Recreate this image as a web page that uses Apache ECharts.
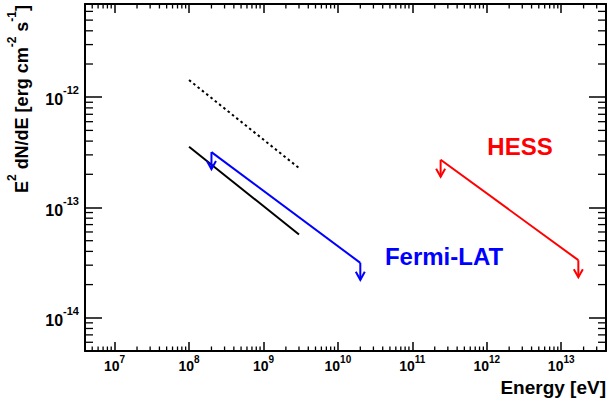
<!DOCTYPE html>
<html><head><meta charset="utf-8">
<script src="https://cdn.jsdelivr.net/npm/echarts@6/dist/echarts.min.js"></script>
<style>html,body{margin:0;padding:0;background:#fff}#c{width:608px;height:401px}</style>
</head><body><div id="c"></div>
<script>
// ---- data ----
const xRange = [4e6, 4e13];          // Energy [eV]
const yRange = [5e-15, 7e-12];       // E^2 dN/dE
const solidLine  = [[1e8, 3.55e-13], [3e9, 5.7e-14]];
const dottedLine = [[1e8, 1.43e-12], [3e9, 2.28e-13]];
const fermiLAT   = [[2e8, 3.18e-13], [2e10, 3.15e-14]];
const hess       = [[2.4e11, 2.71e-13], [1.7e13, 3.33e-14]];
const xDecades = [6, 7, 8, 9, 10, 11, 12, 13];
const yDecades = [-15, -14, -13, -12];
const minorMult = [2, 3, 4, 5, 6, 7, 8, 9];

const FONT = '"Liberation Sans", Arial, Helvetica, sans-serif';

function minorVals(decs, range) {
  const out = [];
  decs.forEach(d => minorMult.forEach(m => {
    const v = m * Math.pow(10, d);
    if (v > range[0] * 1.0001 && v < range[1] * 0.9999) out.push(v);
  }));
  return out;
}
const xMinor = minorVals(xDecades, xRange);
const yMinor = minorVals(yDecades, yRange);

function powLabel(v) {
  const l = Math.log10(v);
  const e = Math.round(l);
  if (Math.abs(l - e) > 0.01) return '';
  return '{b|10}{s|' + e + '}';
}

function minorTickSeries(vals, axis) {
  return {
    type: 'custom', silent: true, clip: false, z: 5,
    data: vals.map(v => axis === 'x' ? [v, yRange[0]] : [xRange[0], v]),
    renderItem(params, api) {
      const cs = params.coordSys;
      const st = { stroke: '#000', lineWidth: 1.3 };
      if (axis === 'x') {
        const px = api.coord([api.value(0), yRange[0]])[0];
        const b = cs.y + cs.height, t = cs.y;
        return { type: 'group', children: [
          { type: 'line', shape: { x1: px, y1: b, x2: px, y2: b - 4.5 }, style: st },
          { type: 'line', shape: { x1: px, y1: t, x2: px, y2: t + 4.5 }, style: st }
        ] };
      } else {
        const py = api.coord([xRange[0], api.value(1)])[1];
        const l = cs.x, r = cs.x + cs.width;
        return { type: 'group', children: [
          { type: 'line', shape: { x1: l, y1: py, x2: l + 8, y2: py }, style: st },
          { type: 'line', shape: { x1: r, y1: py, x2: r - 8, y2: py }, style: st }
        ] };
      }
    }
  };
}

function arrowSeries(points, color) {
  return {
    type: 'custom', silent: true, clip: false, z: 4,
    data: points,
    renderItem(params, api) {
      const p = api.coord([api.value(0), api.value(1)]);
      const st = { stroke: color, lineWidth: 2, fill: null };
      return { type: 'group', children: [
        { type: 'line', shape: { x1: p[0], y1: p[1], x2: p[0], y2: p[1] + 17 }, style: st },
        { type: 'polyline', shape: { points: [[p[0] - 4.5, p[1] + 9], [p[0], p[1] + 17], [p[0] + 4.5, p[1] + 9]] }, style: st }
      ] };
    }
  };
}

const axisLineStyle = { show: true, onZero: false, lineStyle: { color: '#000', width: 2 } };

const xLabelRich = {
  b: { fontSize: 14, fontWeight: 'bold', fontFamily: FONT, color: '#000' },
  s: { fontSize: 10, fontWeight: 'bold', fontFamily: FONT, color: '#000', padding: [0, 0, 14, 0] }
};
const yLabelRich = {
  b: { fontSize: 16, fontWeight: 'bold', fontFamily: FONT, color: '#000', padding: [5, 0, 0, 0] },
  s: { fontSize: 11, fontWeight: 'bold', fontFamily: FONT, color: '#000', padding: [0, 0, 14, 0] }
};

const chart = echarts.init(document.getElementById('c'), null, { renderer: 'svg' });
chart.setOption({
  animation: false,
  backgroundColor: '#fff',
  grid: { left: 85, right: 2, top: 4, bottom: 50, containLabel: false },
  xAxis: [
    { type: 'log', logBase: 10, min: xRange[0], max: xRange[1], position: 'bottom',
      axisLine: axisLineStyle, splitLine: { show: false },
      axisTick: { show: true, inside: true, length: 9, lineStyle: { color: '#000', width: 1.5 } },
      axisLabel: { show: true, margin: 3, formatter: powLabel, rich: xLabelRich,
        fontFamily: FONT, fontWeight: 'bold', fontSize: 14, color: '#000',
        showMinLabel: false, showMaxLabel: false } },
    { type: 'log', logBase: 10, min: xRange[0], max: xRange[1], position: 'top',
      axisLine: axisLineStyle, splitLine: { show: false },
      axisTick: { show: true, inside: true, length: 9, lineStyle: { color: '#000', width: 1.5 } },
      axisLabel: { show: false } }
  ],
  yAxis: [
    { type: 'log', logBase: 10, min: yRange[0], max: yRange[1], position: 'left',
      axisLine: axisLineStyle, splitLine: { show: false },
      axisTick: { show: true, inside: true, length: 17, lineStyle: { color: '#000', width: 1.5 } },
      axisLabel: { show: true, margin: 6, formatter: powLabel, rich: yLabelRich,
        fontFamily: FONT, fontWeight: 'bold', fontSize: 16, color: '#000',
        showMinLabel: false, showMaxLabel: false } },
    { type: 'log', logBase: 10, min: yRange[0], max: yRange[1], position: 'right',
      axisLine: axisLineStyle, splitLine: { show: false },
      axisTick: { show: true, inside: true, length: 17, lineStyle: { color: '#000', width: 1.5 } },
      axisLabel: { show: false } }
  ],
  series: [
    minorTickSeries(xMinor, 'x'),
    minorTickSeries(yMinor, 'y'),
    { type: 'line', data: dottedLine, symbol: 'none', silent: true,
      lineStyle: { color: '#000', width: 2, type: [2.5, 3] } },
    { type: 'line', data: solidLine, symbol: 'none', silent: true,
      lineStyle: { color: '#000', width: 2 } },
    { type: 'line', data: fermiLAT, symbol: 'none', silent: true,
      lineStyle: { color: '#0000ff', width: 2 } },
    arrowSeries(fermiLAT, '#0000ff'),
    { type: 'line', data: hess, symbol: 'none', silent: true,
      lineStyle: { color: '#ff0000', width: 2 } },
    arrowSeries(hess, '#ff0000')
  ],
  graphic: [
    { type: 'text', x: 606, y: 387, silent: true,
      style: { text: 'Energy [eV]', fill: '#000', font: 'bold 19px ' + FONT, align: 'right', verticalAlign: 'middle' } },
    { type: 'text', x: 22, y: 5, rotation: Math.PI / 2, silent: true,
      style: {
        text: '{a|E}{s|2}{a| dN/dE [erg cm}{s|-2}{a| s}{s|-1}{a|]}',
        align: 'right', verticalAlign: 'middle',
        font: 'bold 18px ' + FONT, fill: '#000',
        rich: {
          a: { fontSize: 18, fontWeight: 'bold', fontFamily: FONT, fill: '#000' },
          s: { fontSize: 12, fontWeight: 'bold', fontFamily: FONT, fill: '#000', padding: [0, 0, 20, 0] }
        }
      } },
    { type: 'text', x: 520, y: 146, silent: true,
      style: { text: 'HESS', fill: '#ff0000', font: 'bold 24px ' + FONT, align: 'center', verticalAlign: 'middle' } },
    { type: 'text', x: 444, y: 256, silent: true,
      style: { text: 'Fermi-LAT', fill: '#0000ff', font: 'bold 24px ' + FONT, align: 'center', verticalAlign: 'middle' } }
  ]
});
</script>
</body></html>
